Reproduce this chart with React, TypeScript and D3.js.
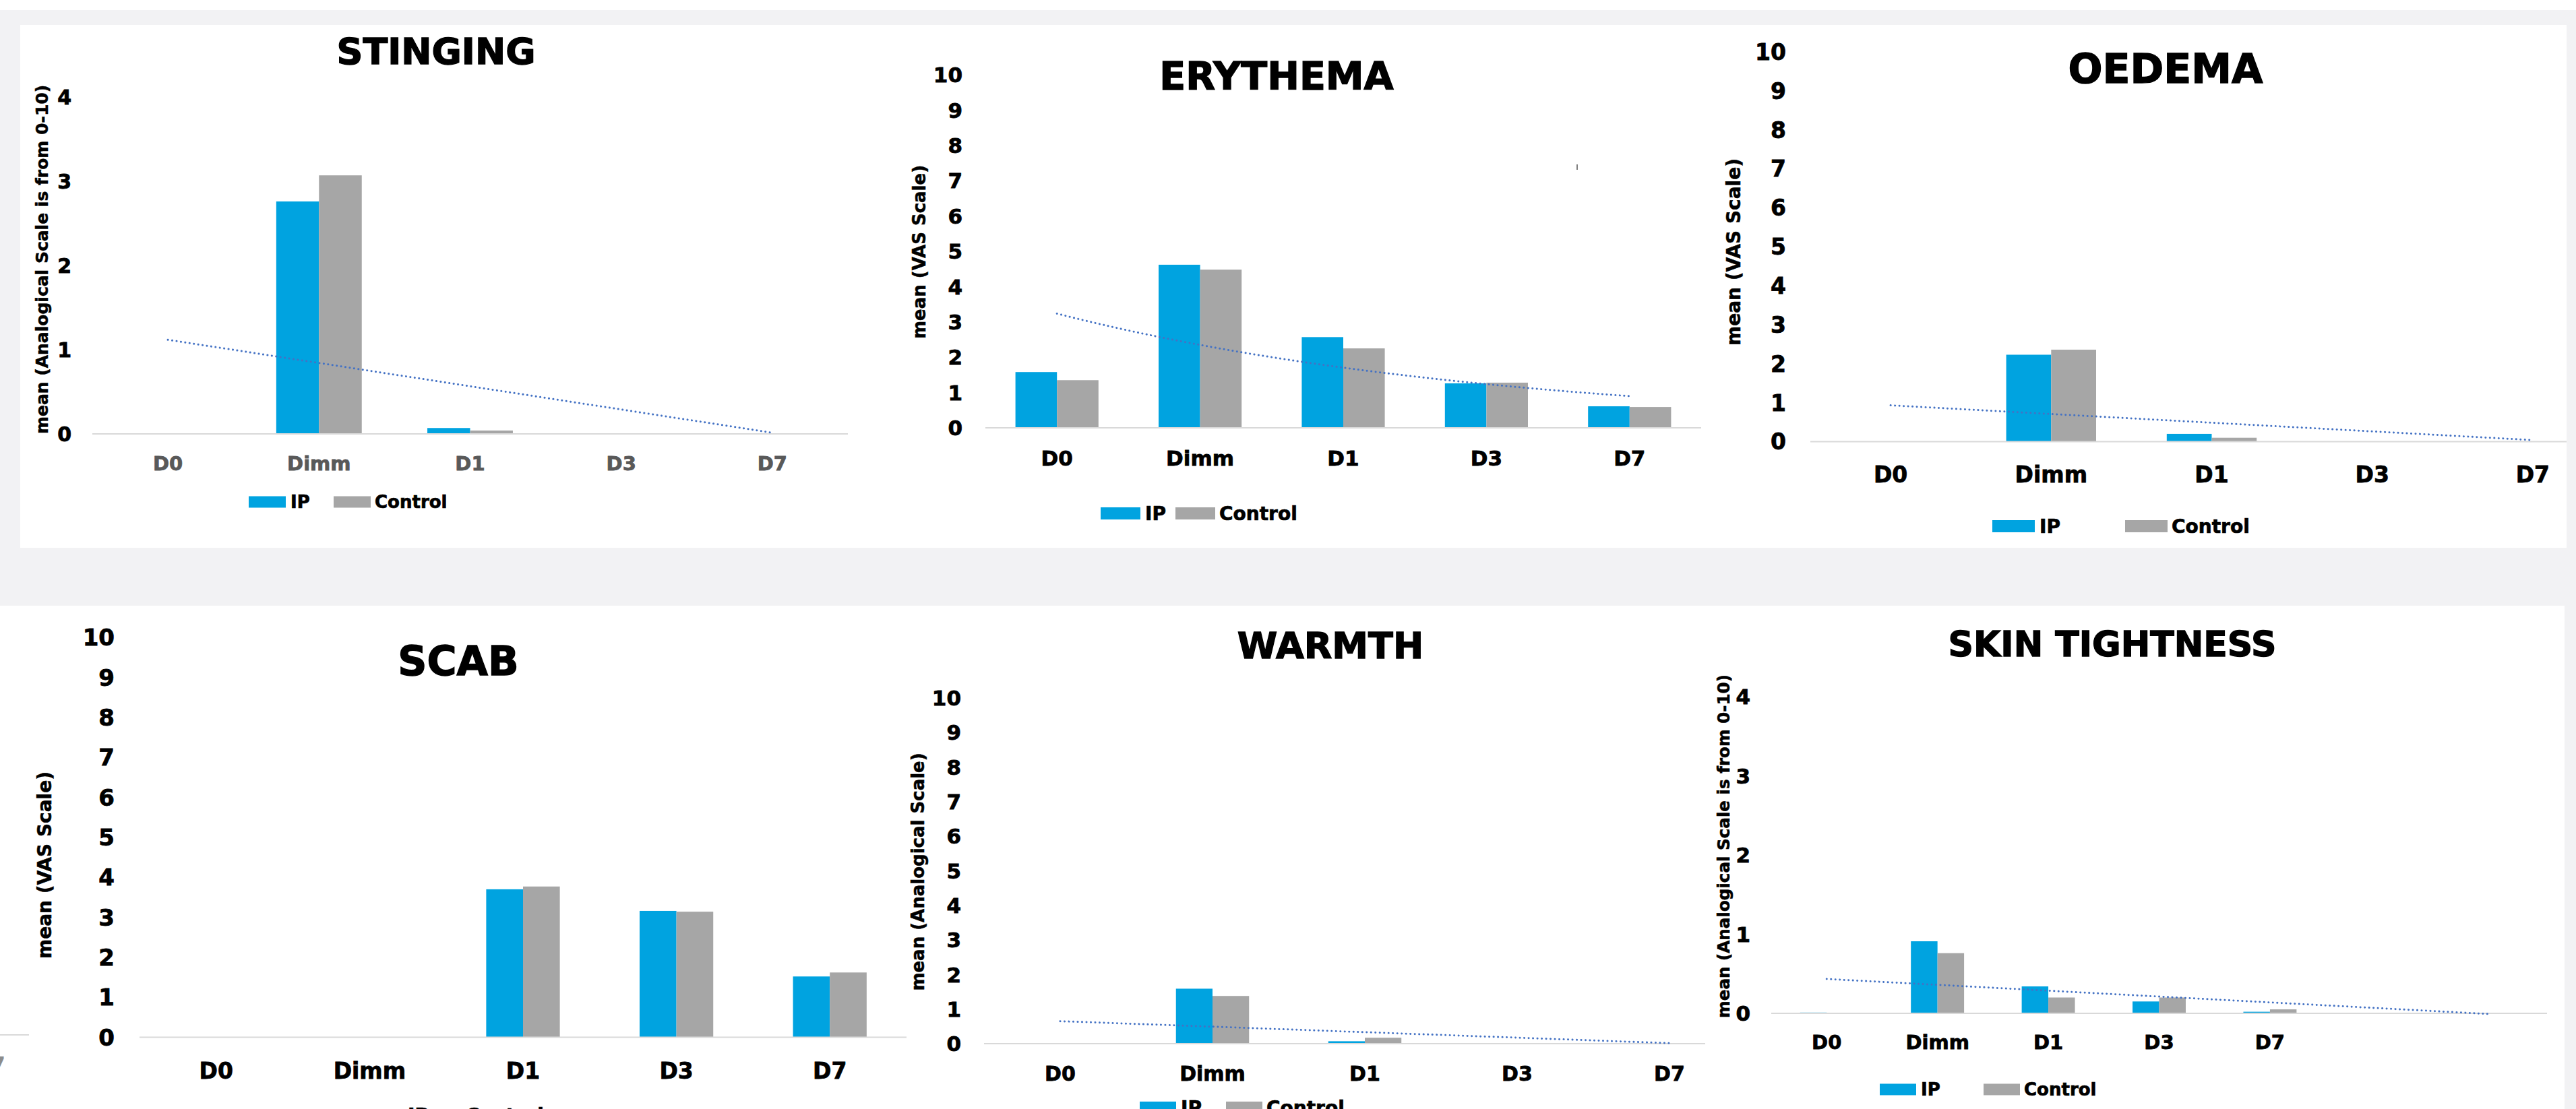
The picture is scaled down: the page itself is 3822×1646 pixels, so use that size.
import React from 'react';
import * as d3 from 'd3';

// ---------- data ----------
const categories = ['D0', 'Dimm', 'D1', 'D3', 'D7'];
const tightnessCategories = ['D0', 'Dimm', 'D1', 'D3', 'D7', '', ''];
const seriesNames = ['IP', 'Control'];

const stingingIP = [0, 2.76, 0.07, 0, 0];
const stingingControl = [0, 3.07, 0.04, 0, 0];

const erythemaIP = [1.58, 4.62, 2.57, 1.26, 0.61];
const erythemaControl = [1.35, 4.48, 2.25, 1.28, 0.59];

const oedemaIP = [0, 2.23, 0.2, 0, 0];
const oedemaControl = [0, 2.36, 0.1, 0, 0];

const scabIP = [0, 0, 3.7, 3.16, 1.52];
const scabControl = [0, 0, 3.77, 3.14, 1.62];

const warmthIP = [0, 1.59, 0.07, 0, 0];
const warmthControl = [0, 1.38, 0.17, 0, 0];

const tightnessIP = [0.01, 0.91, 0.34, 0.15, 0.02];
const tightnessControl = [0, 0.76, 0.2, 0.2, 0.05];

const titles = ['STINGING', 'ERYTHEMA', 'OEDEMA', 'SCAB', 'WARMTH', 'SKIN TIGHTNESS'];
const yTitles = [
  'mean (Analogical Scale is from 0-10)',
  'mean (VAS Scale)',
  'mean (VAS Scale)',
  'mean (VAS Scale)',
  'mean (Analogical Scale)',
  'mean (Analogical Scale is from 0-10)',
];
const yMaxima = [4, 10, 10, 10, 10, 4];

// ---------- style ----------
const FONT = "'DejaVu Sans', Verdana, sans-serif";
const IP_COLOR = '#00A3E0';
const CTRL_COLOR = '#A6A6A6';
const TREND_COLOR = '#4472C4';
const AXIS_COLOR = '#D9D9D9';
const BG = '#F2F2F4';

type Trend = 'linear' | 'exp' | null;

interface Spec {
  title: string;
  titleX: number;
  titleY: number;
  titleSize: number;
  cats: string[];
  ip: number[];
  control: number[];
  x0: number;
  x1: number;
  axisEnd?: number;
  yBase: number;
  yMax: number;
  yTop: number;
  barFrac: number;
  tickRight: number;
  tickSize: number;
  labelDy: number;
  labelSize: number;
  labelColor: string;
  yTitle: string;
  yTitleX: number;
  yTitleY: number;
  yTitleSize: number;
  trend: Trend;
  legend: { ipX: number; ctrlX: number; w: number; h: number; cy: number; fs: number };
}

const specs: Spec[] = [
  {
    title: titles[0], titleX: 647, titleY: 95, titleSize: 54,
    cats: categories, ip: stingingIP, control: stingingControl,
    x0: 137, x1: 1258, yBase: 644, yMax: yMaxima[0], yTop: 144, barFrac: 0.283,
    tickRight: 106, tickSize: 30, labelDy: 44, labelSize: 29, labelColor: '#595959',
    yTitle: yTitles[0], yTitleX: 62, yTitleY: 385, yTitleSize: 25, trend: 'linear',
    legend: { ipX: 369, ctrlX: 495, w: 55, h: 17, cy: 745, fs: 26 },
  },
  {
    title: titles[1], titleX: 1894, titleY: 133, titleSize: 57,
    cats: categories, ip: erythemaIP, control: erythemaControl,
    x0: 1462, x1: 2524, yBase: 635, yMax: yMaxima[1], yTop: 111, barFrac: 0.29,
    tickRight: 1428, tickSize: 31, labelDy: 45, labelSize: 31, labelColor: '#000',
    yTitle: yTitles[1], yTitleX: 1364, yTitleY: 374, yTitleSize: 26, trend: 'exp',
    legend: { ipX: 1633, ctrlX: 1744, w: 59, h: 18, cy: 762, fs: 28 },
  },
  {
    title: titles[2], titleX: 3213, titleY: 123, titleSize: 60,
    cats: categories, ip: oedemaIP, control: oedemaControl,
    x0: 2686, x1: 3877, axisEnd: 3808, yBase: 655.5, yMax: yMaxima[2], yTop: 77, barFrac: 0.28,
    tickRight: 2650, tickSize: 33, labelDy: 49, labelSize: 33, labelColor: '#000',
    yTitle: yTitles[2], yTitleX: 2572, yTitleY: 374, yTitleSize: 28, trend: 'linear',
    legend: { ipX: 2956, ctrlX: 3153, w: 63, h: 18, cy: 781, fs: 28 },
  },
  {
    title: titles[3], titleX: 680, titleY: 1002, titleSize: 60,
    cats: categories, ip: scabIP, control: scabControl,
    x0: 207, x1: 1345, yBase: 1539.5, yMax: yMaxima[3], yTop: 946, barFrac: 0.24,
    tickRight: 170, tickSize: 34, labelDy: 50, labelSize: 33, labelColor: '#000',
    yTitle: yTitles[3], yTitleX: 66, yTitleY: 1284, yTitleSize: 28, trend: null,
    legend: { ipX: 576, ctrlX: 663, w: 22, h: 18, cy: 1655, fs: 28 },
  },
  {
    title: titles[4], titleX: 1974, titleY: 977, titleSize: 54,
    cats: categories, ip: warmthIP, control: warmthControl,
    x0: 1460, x1: 2590, axisEnd: 2530, yBase: 1549, yMax: yMaxima[4], yTop: 1036, barFrac: 0.24,
    tickRight: 1426, tickSize: 31, labelDy: 44, labelSize: 30, labelColor: '#000',
    yTitle: yTitles[4], yTitleX: 1362, yTitleY: 1294, yTitleSize: 26, trend: 'linear',
    legend: { ipX: 1691, ctrlX: 1819, w: 54, h: 18, cy: 1644, fs: 28 },
  },
  {
    title: titles[5], titleX: 3134, titleY: 974, titleSize: 52,
    cats: tightnessCategories, ip: tightnessIP, control: tightnessControl,
    x0: 2628, x1: 3779, yBase: 1504, yMax: yMaxima[5], yTop: 1034, barFrac: 0.24,
    tickRight: 2597, tickSize: 31, labelDy: 43, labelSize: 29, labelColor: '#000',
    yTitle: yTitles[5], yTitleX: 2557, yTitleY: 1256, yTitleSize: 24.6, trend: 'linear',
    legend: { ipX: 2789, ctrlX: 2943, w: 54, h: 17, cy: 1617, fs: 26 },
  },
];

// least squares fit on x = 1..n
function fit(values: number[], kind: Trend) {
  const n = values.length;
  const xs = d3.range(1, n + 1);
  const ys = kind === 'exp' ? values.map((v) => Math.log(v)) : values;
  const mx = d3.mean(xs) as number;
  const my = d3.mean(ys) as number;
  const num = d3.sum(xs, (x, i) => (x - mx) * (ys[i] - my));
  const den = d3.sum(xs, (x) => (x - mx) * (x - mx));
  const b = num / den;
  const a = my - b * mx;
  return (x: number) => (kind === 'exp' ? Math.exp(a + b * x) : a + b * x);
}

const heavy = (w: number, color = '#000') => ({ stroke: color, strokeWidth: w, paintOrder: 'stroke' as const });

function Panel({ s }: { s: Spec }) {
  const x = d3.scaleBand<string>().domain(s.cats.map((c, i) => String(i))).range([s.x0, s.x1]).padding(0);
  const y = d3.scaleLinear().domain([0, s.yMax]).range([s.yBase, s.yTop]);
  const bw = x.bandwidth();
  const barW = bw * s.barFrac;
  const center = (i: number) => (x(String(i)) as number) + bw / 2;
  const ticks = y.ticks(s.yMax);

  let trendPath: string | null = null;
  if (s.trend) {
    const f = fit(s.ip, s.trend);
    const nc = s.cats.length;
    const px = d3.scaleLinear().domain([1, nc]).range([center(0), center(nc - 1)]);
    const pts = d3.range(1, nc + 0.0001, 0.05).map((t) => [px(t), y(f(t))] as [number, number]);
    trendPath = d3.line()(pts);
  }

  const lg = s.legend;
  return (
    <g>
      <text x={s.titleX} y={s.titleY} textAnchor="middle" fontFamily={FONT} fontWeight="bold" fontSize={s.titleSize} fill="#000" {...heavy(1.4)}>
        {s.title}
      </text>
      <text
        transform={`translate(${s.yTitleX},${s.yTitleY}) rotate(-90)`}
        textAnchor="middle"
        dy="0.35em"
        fontFamily={FONT}
        fontWeight="bold"
        fontSize={s.yTitleSize}
        fill="#000"
        {...heavy(0.5)}
      >
        {s.yTitle}
      </text>
      {ticks.map((t) => (
        <text key={t} x={s.tickRight} y={y(t)} dy="0.36em" textAnchor="end" fontFamily={FONT} fontWeight="bold" fontSize={s.tickSize} fill="#000" {...heavy(0.8)}>
          {t}
        </text>
      ))}
      {s.ip.map((v, i) => (
        <rect key={'ip' + i} x={center(i) - barW} y={y(v)} width={barW} height={s.yBase - y(v)} fill={IP_COLOR} />
      ))}
      {s.control.map((v, i) => (
        <rect key={'c' + i} x={center(i)} y={y(v)} width={barW} height={s.yBase - y(v)} fill={CTRL_COLOR} />
      ))}
      <line x1={s.x0} x2={s.axisEnd ?? s.x1} y1={s.yBase} y2={s.yBase} stroke={AXIS_COLOR} strokeWidth={2.2} />
      {trendPath && (
        <path d={trendPath} fill="none" stroke={TREND_COLOR} strokeWidth={3} strokeDasharray="0.1 6.4" strokeLinecap="round" />
      )}
      {s.cats.map((c, i) => (
        <text key={'l' + i} x={center(i)} y={s.yBase + s.labelDy} dy="0.36em" textAnchor="middle" fontFamily={FONT} fontWeight="bold" fontSize={s.labelSize} fill={s.labelColor} {...heavy(0.8, s.labelColor)}>
          {c}
        </text>
      ))}
      <rect x={lg.ipX} y={lg.cy - lg.h / 2} width={lg.w} height={lg.h} fill={IP_COLOR} />
      <text x={lg.ipX + lg.w + 7} y={lg.cy} dy="0.36em" fontFamily={FONT} fontWeight="bold" fontSize={lg.fs} fill="#000" {...heavy(0.7)}>
        {seriesNames[0]}
      </text>
      <rect x={lg.ctrlX} y={lg.cy - lg.h / 2} width={lg.w} height={lg.h} fill={CTRL_COLOR} />
      <text x={lg.ctrlX + lg.w + 6} y={lg.cy} dy="0.36em" fontFamily={FONT} fontWeight="bold" fontSize={lg.fs} fill="#000" {...heavy(0.7)}>
        {seriesNames[1]}
      </text>
    </g>
  );
}

export default function App() {
  const W = 3822;
  const H = 1646;
  return (
    <svg
      width={W}
      height={H}
      viewBox={`0 0 ${W} ${H}`}
      style={{ position: 'absolute', left: 0, top: 0, display: 'block' }}
    >
      <defs>
        <clipPath id="topPanel">
          <rect x={30} y={37} width={3778} height={776} />
        </clipPath>
        <clipPath id="bottomPanel">
          <rect x={0} y={899} width={3805} height={747} />
        </clipPath>
      </defs>
      <rect x={0} y={0} width={W} height={H} fill={BG} />
      <rect x={0} y={0} width={W} height={15} fill="#fff" />
      <rect x={30} y={37} width={3778} height={776} fill="#fff" />
      <rect x={0} y={899} width={3805} height={747} fill="#fff" />
      <g clipPath="url(#topPanel)">
        {specs.slice(0, 3).map((s) => (
          <Panel key={s.title} s={s} />
        ))}
        <line x1={2340} x2={2340} y1={244} y2={252} stroke="#7f7f7f" strokeWidth={2} />
      </g>
      <g clipPath="url(#bottomPanel)">
        {specs.slice(3).map((s) => (
          <Panel key={s.title} s={s} />
        ))}
        <line x1={0} x2={43} y1={1536} y2={1536} stroke={AXIS_COLOR} strokeWidth={2} />
        <text x={8} y={1590} textAnchor="end" fontFamily={FONT} fontWeight="bold" fontSize={30} fill="#8c8c8c">
          D7
        </text>
      </g>
    </svg>
  );
}
